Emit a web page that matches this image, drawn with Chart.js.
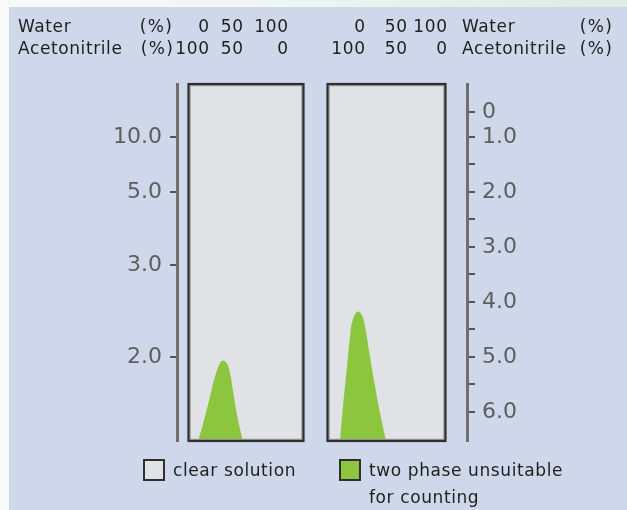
<!DOCTYPE html>
<html>
<head>
<meta charset="utf-8">
<script src="https://cdn.jsdelivr.net/npm/chart.js@4.4.1/dist/chart.umd.min.js"></script>
<style>
  html, body { margin: 0; padding: 0; width: 627px; height: 510px; overflow: hidden; }
  body { position: relative; background: linear-gradient(90deg, #f7faf8 0%, #eef6f1 45%, #e3f0e8 75%, #dcece2 100%); }
  #bg { position: absolute; left: 9px; top: 7px; right: 0; bottom: 0; background: #cfd8ea; }
  #c { position: absolute; left: 0; top: 0; }
</style>
</head>
<body>
<div id="bg"></div>
<canvas id="c" width="627" height="510"></canvas>
<script>
// Composition columns printed above each panel
const waterTicks = [0, 50, 100];
const acetonitrileTicks = [100, 50, 0];

// Left scale (reciprocal of the right scale)
const leftTickValues = [10, 5, 3, 2];

// Right scale
const rightTickValues = [0.55, 1, 2, 3, 4, 5, 6];
const rightTickLabels = ['0', '1.0', '2.0', '3.0', '4.0', '5.0', '6.0'];
const rightMinorTicks = [1.5, 2.5, 3.5, 4.5, 5.5];

// Two-phase boundary, left panel: water % and right-scale level
const leftWater = [8.5, 14.3, 18.7, 23.0, 27.4, 29.7, 33.2, 36.1, 39.0, 41.9, 47.2];
const leftLevel = [6.53, 6.09, 5.72, 5.36, 5.11, 5.07, 5.11, 5.30, 5.66, 6.02, 6.53];

// Two-phase boundary, right panel
const rightWater = [10.6, 13.4, 16.3, 19.1, 21.4, 25.3, 29.0, 31.8, 36.0, 40.3, 44.5, 49.6];
const rightLevel = [6.53, 5.84, 5.24, 4.63, 4.33, 4.18, 4.24, 4.45, 5.00, 5.54, 6.02, 6.53];

const legendLabels = [['clear solution'], ['two phase unsuitable', 'for counting']];

// ---- styling / layout ----
const FONT = '"DejaVu Sans", Verdana, sans-serif';
const GREEN = '#8cc63f';
const PANEL = '#e1e2e5';
const EDGE = '#2f2f2f';
const TEXT = '#1e1e1e';
const Y_MIN = 0.04, Y_MAX = 6.53;
const AXIS_LEFT_X = 177, AXIS_RIGHT_X = 467;
// each panel spans 0..100 % water
const X1_MIN = -(188.5 - AXIS_LEFT_X) / 1.15, X1_MAX = X1_MIN + (AXIS_RIGHT_X - AXIS_LEFT_X) / 1.15;
const X2_MIN = -(327.5 - AXIS_LEFT_X) / 1.18, X2_MAX = X2_MIN + (AXIS_RIGHT_X - AXIS_LEFT_X) / 1.18;

const toPoints = (xs, ys) => xs.map((x, i) => ({ x, y: ys[i] }));

const panelsPlugin = {
  id: 'panels',
  beforeDatasetsDraw(chart) {
    const { ctx, chartArea: a } = chart;
    ctx.save();
    ['x1', 'x2'].forEach(id => {
      const s = chart.scales[id];
      const l = s.getPixelForValue(0), r = s.getPixelForValue(100);
      ctx.fillStyle = PANEL;
      ctx.fillRect(l, a.top, r - l, a.bottom - a.top);
    });
    ctx.restore();
  },
  afterDatasetsDraw(chart) {
    const { ctx, chartArea: a } = chart;
    ctx.save();
    ['x1', 'x2'].forEach(id => {
      const s = chart.scales[id];
      const l = s.getPixelForValue(0), r = s.getPixelForValue(100);
      ctx.strokeStyle = '#9a9a9c';
      ctx.lineWidth = 1.5;
      ctx.strokeRect(l + 1.5, a.top + 1.5, r - l - 3, a.bottom - a.top - 3);
      ctx.strokeStyle = EDGE;
      ctx.lineWidth = 2.2;
      ctx.strokeRect(l, a.top, r - l, a.bottom - a.top);
    });
    ctx.restore();
  }
};

const textPlugin = {
  id: 'texts',
  afterDraw(chart) {
    const ctx = chart.ctx;
    ctx.save();
    ctx.fillStyle = TEXT;
    ctx.font = '17px ' + FONT;
    ctx.textBaseline = 'alphabetic';
    const put = (t, x, y, align, spacing = 0.6) => {
      ctx.letterSpacing = spacing + 'px';
      ctx.textAlign = align;
      ctx.fillText(t, align === 'right' ? x + spacing : x, y);
    };
    const row1 = 32, row2 = 54;
    // left panel header
    put('Water', 18, row1, 'left');
    put('(%)', 172, row1, 'right', 1.4);
    put('Acetonitrile', 18, row2, 'left');
    put('(%)', 173, row2, 'right', 1.4);
    const leftCols = [209, 243, 288];
    const rightCols = [365, 407, 447];
    waterTicks.forEach((v, i) => put(String(v), leftCols[i], row1, 'right'));
    acetonitrileTicks.forEach((v, i) => put(String(v), leftCols[i], row2, 'right'));
    // right panel header
    waterTicks.forEach((v, i) => put(String(v), rightCols[i], row1, 'right'));
    acetonitrileTicks.forEach((v, i) => put(String(v), rightCols[i], row2, 'right'));
    put('Water', 462, row1, 'left');
    put('(%)', 612, row1, 'right', 1.4);
    put('Acetonitrile', 462, row2, 'left');
    put('(%)', 612, row2, 'right', 1.4);

    // legend
    const swatches = [PANEL, GREEN];
    const boxX = [144, 340];
    const txtX = [173, 369];
    swatches.forEach((c, i) => {
      ctx.fillStyle = c;
      ctx.fillRect(boxX[i], 460, 20, 20);
      ctx.strokeStyle = EDGE;
      ctx.lineWidth = 2;
      ctx.strokeRect(boxX[i], 460, 20, 20);
      ctx.fillStyle = TEXT;
      legendLabels[i].forEach((line, j) => put(line, txtX[i], 476 + j * 27, 'left'));
    });
    ctx.restore();
  }
};

const tickFont = { family: FONT, size: 22 };
const rightAll = rightTickValues.map((v, i) => ({ v, label: rightTickLabels[i] }))
  .concat(rightMinorTicks.map(v => ({ v, label: '' })))
  .sort((a, b) => a.v - b.v);

new Chart(document.getElementById('c'), {
  type: 'line',
  data: {
    datasets: [
      { data: toPoints(leftWater, leftLevel), xAxisID: 'x1', yAxisID: 'yR' },
      { data: toPoints(rightWater, rightLevel), xAxisID: 'x2', yAxisID: 'yR' }
    ].map(d => Object.assign(d, {
      backgroundColor: GREEN, borderColor: GREEN, borderWidth: 0, pointRadius: 0,
      fill: { value: Y_MAX }, tension: 0.45
    }))
  },
  options: {
    responsive: false,
    animation: false,
    events: [],
    layout: { padding: { top: 84, bottom: 69, left: 0, right: 0 } },
    plugins: { legend: { display: false }, tooltip: { enabled: false } },
    scales: {
      x1: { type: 'linear', display: false, min: X1_MIN, max: X1_MAX },
      x2: { type: 'linear', display: false, min: X2_MIN, max: X2_MAX },
      yL: {
        type: 'linear', position: 'left', reverse: true, min: Y_MIN, max: Y_MAX,
        afterFit(s) { s.width = AXIS_LEFT_X; },
        afterBuildTicks(s) { s.ticks = leftTickValues.map(v => ({ value: 10 / v })); },
        ticks: { autoSkip: false, font: tickFont, color: '#5e5e5e', padding: 8,
                 callback: (v, i) => leftTickValues[i].toFixed(1) },
        grid: { drawOnChartArea: false, drawTicks: true, tickLength: 7, color: '#555', lineWidth: 2 },
        border: { display: true, color: '#6e6e6e', width: 3 }
      },
      yR: {
        type: 'linear', position: 'right', reverse: true, min: Y_MIN, max: Y_MAX,
        afterFit(s) { s.width = 627 - AXIS_RIGHT_X; },
        afterBuildTicks(s) { s.ticks = rightAll.map(t => ({ value: t.v })); },
        ticks: { autoSkip: false, font: tickFont, color: '#5e5e5e', padding: 7,
                 callback: (v, i) => rightAll[i].label },
        grid: { drawOnChartArea: false, drawTicks: true, tickLength: 8, color: '#555', lineWidth: 2 },
        border: { display: true, color: '#6e6e6e', width: 3 }
      }
    }
  },
  plugins: [panelsPlugin, textPlugin]
});
</script>
</body>
</html>
